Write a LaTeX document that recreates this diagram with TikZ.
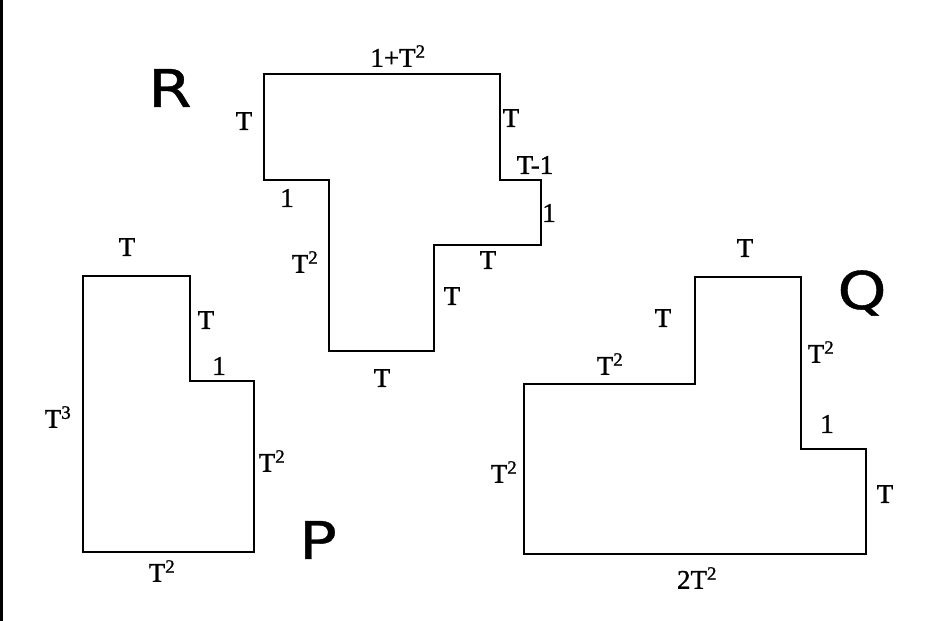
\documentclass[tikz,border=0pt]{standalone}
\usepackage{fontspec}
\setmainfont[FakeBold=1.2]{Liberation Serif}
\newfontfamily\bigletter[FakeStretch=1.2,FakeBold=0.8]{DejaVu Sans}
\usetikzlibrary{positioning}

\begin{document}
\begin{tikzpicture}[x=1pt,y=-1pt,
  edge/.style={line width=1.4pt,line join=miter},
  lbl/.style={font=\fontsize{27}{27}\selectfont,inner sep=0pt},
  big/.style={font=\bigletter\fontsize{52}{52}\selectfont,inner sep=0pt}]
  \useasboundingbox (0,0) rectangle (935,621);
  \fill (0,0) rectangle (3,621);

  % shape R
  \coordinate (r1) at (264,74);  \coordinate (r2) at (500,74);
  \coordinate (r3) at (500,180); \coordinate (r4) at (541,180);
  \coordinate (r5) at (541,245); \coordinate (r6) at (434,245);
  \coordinate (r7) at (434,351); \coordinate (r8) at (329,351);
  \coordinate (r9) at (329,180); \coordinate (r10) at (264,180);
  \draw[edge] (r1) -- (r2) -- (r3) -- (r4) -- (r5) -- (r6) -- (r7) -- (r8) -- (r9) -- (r10) -- cycle;

  \node[big] (R) at (170,88) {R};
  \node[lbl] (r12) at (398,56) {1+T\textsuperscript{2}};
  \node[lbl] (r110) at (244,121) {T};
  \node[lbl] (r910) at (287,198) {1};
  \node[lbl] (r89) at (305,262) {T\textsuperscript{2}};
  \node[lbl] (r23) at (511,118) {T};
  \node[lbl] (r34) at (535,165) {T-1};
  \node[lbl] (r45) at (549,213) {1};
  \node[lbl] (r56) at (488,260) {T};
  \node[lbl] (r67) at (452,296) {T};
  \node[lbl] (r78) at (382,378) {T};

  % shape P
  \coordinate (p1) at (83,276);  \coordinate (p2) at (190,276);
  \coordinate (p3) at (190,381); \coordinate (p4) at (254,381);
  \coordinate (p5) at (254,552); \coordinate (p6) at (83,552);
  \draw[edge] (p1) -- (p2) -- (p3) -- (p4) -- (p5) -- (p6) -- cycle;

  \node[big] (P) at (318,540) {P};
  \node[lbl] (p12) at (127,247) {T};
  \node[lbl] (p23) at (206,320) {T};
  \node[lbl] (p34) at (219,366) {1};
  \node[lbl] (p61) at (58,417) {T\textsuperscript{3}};
  \node[lbl] (p45) at (272,461) {T\textsuperscript{2}};
  \node[lbl] (p56) at (162,571) {T\textsuperscript{2}};

  % shape Q
  \coordinate (q1) at (695,277); \coordinate (q2) at (801,277);
  \coordinate (q3) at (801,449); \coordinate (q4) at (866,449);
  \coordinate (q5) at (866,554); \coordinate (q6) at (524,554);
  \coordinate (q7) at (524,384); \coordinate (q8) at (695,384);
  \draw[edge] (q1) -- (q2) -- (q3) -- (q4) -- (q5) -- (q6) -- (q7) -- (q8) -- cycle;

  \node[big] (Q) at (862,293) {Q};
  \node[lbl] (q12) at (745,248) {T};
  \node[lbl] (q81) at (663,318) {T};
  \node[lbl] (q78) at (610,364) {T\textsuperscript{2}};
  \node[lbl] (q23) at (821,352) {T\textsuperscript{2}};
  \node[lbl] (q34) at (827,424) {1};
  \node[lbl] (q45) at (885,494) {T};
  \node[lbl] (q67) at (504,472) {T\textsuperscript{2}};
  \node[lbl] (q56) at (697,578) {2T\textsuperscript{2}};
\end{tikzpicture}
\end{document}
